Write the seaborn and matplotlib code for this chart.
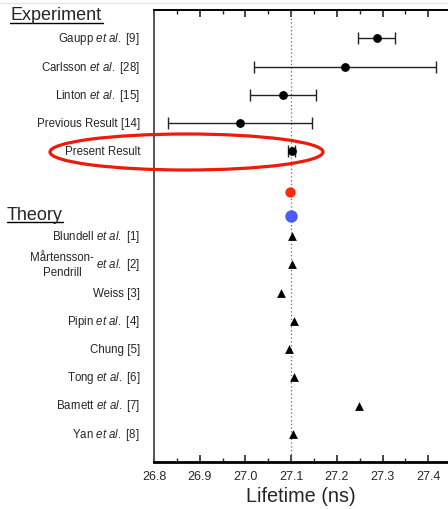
import matplotlib
matplotlib.use("Agg")
import matplotlib.pyplot as plt
from matplotlib.patches import Ellipse
from matplotlib.lines import Line2D
from matplotlib.ticker import MultipleLocator
import seaborn as sns
import pandas as pd

# ---------------- data ----------------
exp_labels = ["Gaupp $\\mathit{et\\ al.}$ [9]", "Carlsson $\\mathit{et\\ al.}$ [28]",
              "Linton $\\mathit{et\\ al.}$ [15]", "Previous Result [14]", "Present Result"]
exp_values = [27.287, 27.218, 27.082, 26.988, 27.101]
exp_errors = [0.040, 0.199, 0.073, 0.158, 0.007]
exp_rows = [0, 1, 2, 3, 4]

marker_red_value = 27.098
marker_blue_value = 27.100
marker_rows = [5.45, 6.3]

theory_labels = ["Blundell $\\mathit{et\\ al.}$ [1]", "", "Weiss [3]", "Pipin $\\mathit{et\\ al.}$ [4]",
                 "Chung [5]", "Tong $\\mathit{et\\ al.}$ [6]", "Barnett $\\mathit{et\\ al.}$ [7]",
                 "Yan $\\mathit{et\\ al.}$ [8]"]
theory_values = [27.102, 27.102, 27.078, 27.106, 27.095, 27.106, 27.248, 27.104]
theory_rows = [7, 8, 9, 10, 11, 12, 13, 14]

reference_line = 27.1
x_ticks = [26.8, 26.9, 27.0, 27.1, 27.2, 27.3, 27.4]

# ---------------- style ----------------
sns.set_style("white")
plt.rcParams["font.family"] = ["Liberation Sans", "DejaVu Sans"]
plt.rcParams["mathtext.fontset"] = "custom"
plt.rcParams["mathtext.rm"] = "Liberation Sans"
plt.rcParams["mathtext.it"] = "Liberation Sans:italic"

W, H = 448, 510
fig = plt.figure(figsize=(W / 100, H / 100), dpi=100)
ax = fig.add_axes([154 / W, 1 - 463 / H, 1 - 154 / W, (463 - 11) / H])

# dotted reference line
ax.axvline(reference_line, color="#666666", ls=(0, (1, 2)), lw=0.9, zorder=1)

# experiments with error bars
exp_df = pd.DataFrame({"x": exp_values, "y": exp_rows, "err": exp_errors})
ax.errorbar(exp_df["x"], exp_df["y"], xerr=exp_df["err"], fmt="none",
            ecolor="#222222", elinewidth=1.0, capsize=4.5, capthick=1.0, zorder=2)
sns.scatterplot(data=exp_df, x="x", y="y", ax=ax, color="black", s=40,
                marker="o", edgecolor="black", linewidth=0, zorder=3, legend=False)

# colored markers
sns.scatterplot(x=[marker_red_value], y=[marker_rows[0]], ax=ax, color="#ff2a0a",
                s=55, linewidth=0, zorder=3, legend=False)
sns.scatterplot(x=[marker_blue_value], y=[marker_rows[1]], ax=ax, color="#4a5cff",
                s=80, linewidth=0, zorder=3, legend=False)

# theory triangles
th_df = pd.DataFrame({"x": theory_values, "y": theory_rows})
sns.scatterplot(data=th_df, x="x", y="y", ax=ax, color="black", marker="^",
                s=40, linewidth=0, zorder=3, legend=False)

ax.set_xlim(26.8, 26.8 + (W - 154) / 457.0)
ax.set_ylim(15, -1)
ax.set_xticks(x_ticks)
ax.set_xticklabels([f"{t:.1f}" for t in x_ticks])
ax.xaxis.set_minor_locator(MultipleLocator(0.05))
ax.set_yticks([])
ax.set_xlabel("Lifetime (ns)", fontsize=14.3, labelpad=3)
ax.set_ylabel("")
ax.tick_params(axis="x", which="major", direction="in", length=5, width=1.2,
               top=True, bottom=True, labelsize=9, pad=6)
ax.tick_params(axis="x", which="minor", direction="in", length=3, width=1,
               top=True, bottom=True)

ax.spines["right"].set_visible(False)
ax.spines["left"].set_color("#555555")
ax.spines["left"].set_linewidth(1.4)
ax.spines["bottom"].set_color("black")
ax.spines["bottom"].set_linewidth(2.0)
ax.spines["top"].set_color("black")
ax.spines["top"].set_linewidth(1.4)

# row labels
lab_x = (140 - 154) / (W - 154)
ytr = ax.get_yaxis_transform()
for lab, r in zip(exp_labels, exp_rows):
    ax.text(lab_x, r, lab, transform=ytr, ha="right", va="center", fontsize=8.3)
for lab, r in zip(theory_labels, theory_rows):
    if lab:
        ax.text(lab_x, r, lab, transform=ytr, ha="right", va="center", fontsize=8.3)
# two-line name
ax.text(lab_x, 8, "$\\mathit{et\\ al.}$ [2]", transform=ytr, ha="right", va="center", fontsize=8.3)
ax.text((62 - 154) / (W - 154), 8, "Mårtensson-\nPendrill", transform=ytr, ha="center",
        va="center", fontsize=8.3, linespacing=1.35)

# headings with underline
fig.text(10 / W, 1 - 16 / H, "Experiment", ha="left", va="center", fontsize=13)
fig.add_artist(Line2D([10 / W, 103 / W], [1 - 23.5 / H, 1 - 23.5 / H], color="black", lw=1))
fig.text(7 / W, 1 - 216 / H, "Theory", ha="left", va="center", fontsize=13)
fig.add_artist(Line2D([7 / W, 63 / W], [1 - 223 / H, 1 - 223 / H], color="black", lw=1))

# faint line at very top
fig.add_artist(Line2D([0, 1], [1 - 4 / H, 1 - 4 / H], color="#e6e6e6", lw=1))

# red ellipse around present result
fig.add_artist(Ellipse((186.5 / W, 1 - 153 / H), 273 / W, 36 / H, angle=0,
                       fill=False, edgecolor="#ee1a0a", lw=2.3))

fig.savefig("out.png", dpi=100)
